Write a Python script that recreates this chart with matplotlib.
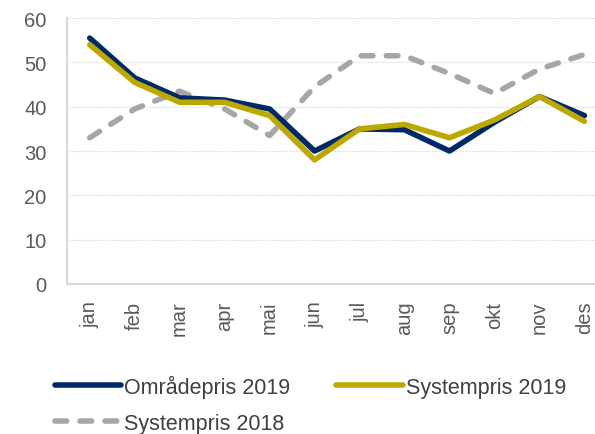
import matplotlib.pyplot as plt

plt.rcParams['font.family'] = ['Liberation Sans', 'DejaVu Sans']

# months and prices
months = ['jan', 'feb', 'mar', 'apr', 'mai', 'jun', 'jul', 'aug', 'sep', 'okt', 'nov', 'des']
omradepris_2019 = [55.5, 46.5, 42.0, 41.5, 39.5, 30.0, 35.0, 34.8, 30.0, 36.5, 42.3, 38.0]
systempris_2019 = [54.0, 45.5, 41.0, 41.0, 38.0, 28.0, 35.0, 36.0, 33.0, 37.0, 42.3, 36.7]
systempris_2018 = [33.0, 39.5, 43.5, 39.5, 33.5, 44.5, 51.5, 51.5, 47.5, 43.0, 48.5, 51.8]

fig = plt.figure(figsize=(5.95, 4.35), dpi=100)
ax = fig.add_axes([0.113, 0.345, 0.907, 0.611])

x = range(len(months))
l1, = ax.plot(x, omradepris_2019, color='#002A66', lw=4, label='Områdepris 2019',
              solid_capstyle='round', zorder=3)
l2, = ax.plot(x, systempris_2019, color='#BCA800', lw=4, label='Systempris 2019',
              solid_capstyle='round', zorder=4)
l3, = ax.plot(x, systempris_2018, color='#A6A6A6', lw=4, ls=(0, (2.1, 2.4)),
              dash_capstyle='round', label='Systempris 2018', zorder=2)

ax.set_xlim(-0.5, 11.5)
ax.set_ylim(0, 60)
ax.set_yticks(range(0, 61, 10))
ax.set_xticks(list(x))
ax.set_xticklabels(months, rotation=90)
ax.tick_params(axis='both', length=0, labelsize=14.5, labelcolor='#595959')
ax.tick_params(axis='y', pad=15)
ax.tick_params(axis='x', pad=12)

ax.yaxis.grid(True, color='#D9D9D9', ls=(0, (1, 1)), lw=0.8)
ax.set_axisbelow(True)
for s in ['top', 'right']:
    ax.spines[s].set_visible(False)
for s in ['left', 'bottom']:
    ax.spines[s].set_color('#D9D9D9')
    ax.spines[s].set_linewidth(1.5)

# order so that rows read: Områdepris 2019, Systempris 2019 / Systempris 2018
fig.legend([l1, l3, l2], [l1.get_label(), l3.get_label(), l2.get_label()],
           loc='lower left', bbox_to_anchor=(0.092, 0.0), ncol=2, frameon=False,
           fontsize=15.5, handlelength=3.1, handletextpad=0.14, columnspacing=2.1,
           labelspacing=0.7, labelcolor='#404040', borderpad=0, borderaxespad=0)

fig.savefig('out.png', dpi=100)
